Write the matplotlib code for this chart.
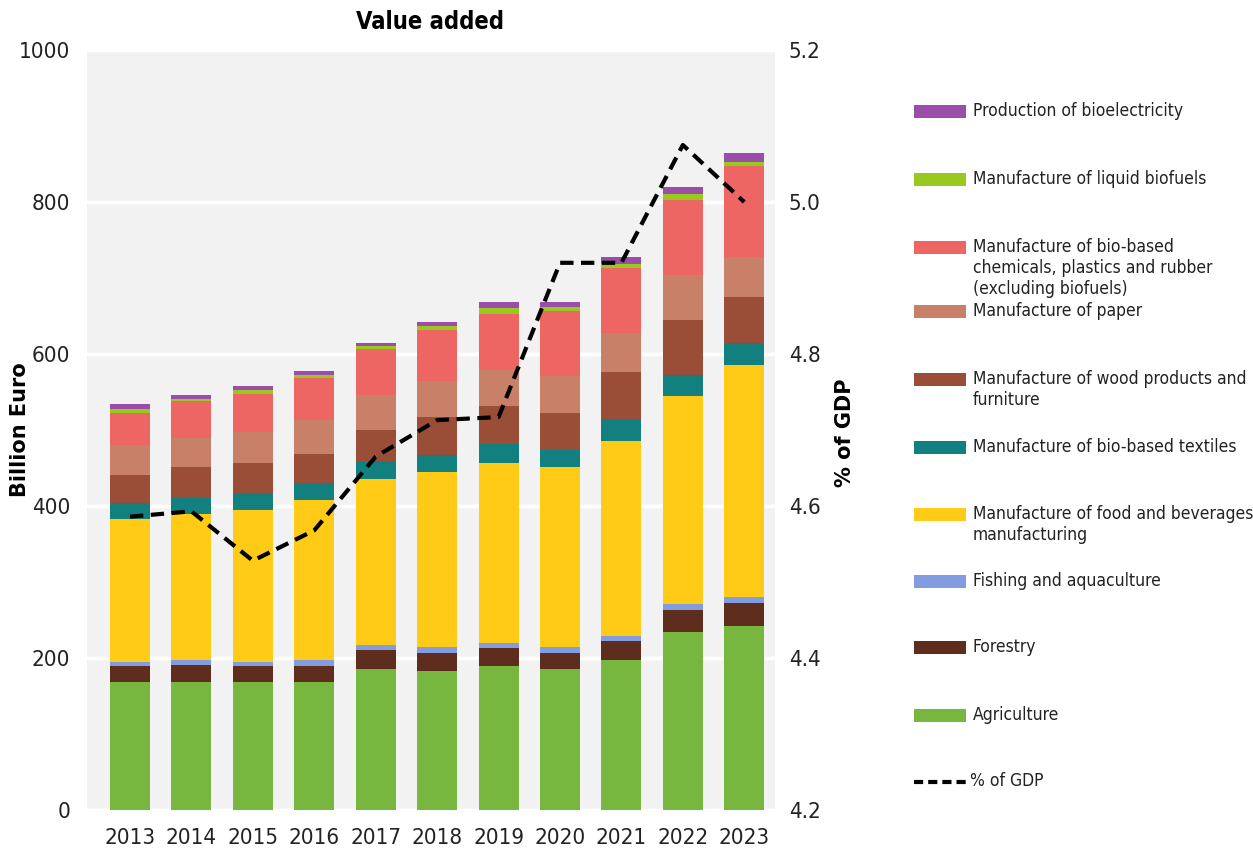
import matplotlib
matplotlib.use("Agg")
import os
import matplotlib.pyplot as plt
import matplotlib.font_manager as fm
import numpy as np
from matplotlib.patches import Rectangle
from matplotlib.lines import Line2D

years = ["2013", "2014", "2015", "2016", "2017", "2018", "2019", "2020", "2021", "2022", "2023"]

agriculture = [168, 168, 168, 168, 186, 183, 189, 186, 198, 234, 242]
forestry = [21, 23, 21, 21, 24, 24, 24, 21, 24, 29, 30]
fishing = [6, 7, 6, 9, 7, 7, 7, 7, 7, 8, 8]
food = [188, 191, 200, 210, 218, 231, 237, 237, 256, 274, 306]
textiles = [21, 22, 22, 22, 24, 22, 25, 23, 29, 27, 28]
wood = [37, 40, 40, 39, 41, 50, 49, 48, 62, 73, 61]
paper = [39, 39, 40, 44, 46, 47, 48, 49, 52, 59, 53]
chemicals = [42, 48, 50, 56, 60, 68, 74, 85, 85, 99, 119]
liquid_biofuels = [5, 3, 5, 4, 5, 5, 7, 6, 6, 8, 6]
bioelectricity = [7, 5, 6, 5, 4, 5, 8, 6, 8, 9, 12]

gdp_share = [4.586, 4.593, 4.528, 4.568, 4.665, 4.713, 4.717, 4.920, 4.920, 5.075, 5.000]

labels = {
    "agri": "Agriculture",
    "forest": "Forestry",
    "fish": "Fishing and aquaculture",
    "food": "Manufacture of food and beverages\nmanufacturing",
    "textile": "Manufacture of bio-based textiles",
    "wood": "Manufacture of wood products and\nfurniture",
    "paper": "Manufacture of paper",
    "chem": "Manufacture of bio-based\nchemicals, plastics and rubber\n(excluding biofuels)",
    "fuel": "Manufacture of liquid biofuels",
    "elec": "Production of bioelectricity",
}

series = [
    ("agri", agriculture, "#77B73F"),
    ("forest", forestry, "#5E2D1E"),
    ("fish", fishing, "#829CE0"),
    ("food", food, "#FFCB16"),
    ("textile", textiles, "#11807E"),
    ("wood", wood, "#9A4E38"),
    ("paper", paper, "#C98069"),
    ("chem", chemicals, "#EE6663"),
    ("fuel", liquid_biofuels, "#99C81E"),
    ("elec", bioelectricity, "#9B4DAA"),
]


def pick_font(candidates, fallback_family, weight="normal"):
    files = {os.path.basename(f.fname).lower(): f.fname for f in fm.fontManager.ttflist}
    for c in candidates:
        if c in files:
            return fm.FontProperties(fname=files[c])
    return fm.FontProperties(family=fallback_family, weight=weight)


REG = ["liberationsansnarrow-regular.ttf", "dejavusanscondensed.ttf", "robotocondensed-regular.ttf",
       "notosans-condensed.ttf", "opensans-condensed.ttf"]
BOLD = ["liberationsansnarrow-bold.ttf", "dejavusanscondensed-bold.ttf", "robotocondensed-bold.ttf",
        "notosans-condensedbold.ttf"]


def fp(size, bold=False):
    f = pick_font(BOLD if bold else REG, "Liberation Sans", "bold" if bold else "normal").copy()
    f.set_size(size)
    return f


fig = plt.figure(figsize=(12.53, 8.57), dpi=100)
ax = fig.add_axes([87 / 1253, 1 - 810 / 857, (775 - 87) / 1253, (810 - 50) / 857])
ax.set_facecolor("#F2F2F2")

x = np.arange(len(years))
bottom = np.zeros(len(years))
for key, vals, col in series:
    ax.bar(x, vals, bottom=bottom, width=0.65, color=col, zorder=3, linewidth=0)
    bottom += np.array(vals)

ax.set_xlim(-0.7, 10.5)
ax.set_ylim(0, 1000)
ax.set_yticks([0, 200, 400, 600, 800, 1000])
ax.yaxis.grid(True, color="white", linewidth=2.5, zorder=1)
ax.set_axisbelow(True)
for s in ax.spines.values():
    s.set_visible(False)
ax.tick_params(length=0)
ax.tick_params(axis="y", pad=12)
ax.tick_params(axis="x", pad=13)
ax.set_xticks(x)
ax.set_xticklabels(years)
for lbl in ax.get_xticklabels() + ax.get_yticklabels():
    lbl.set_fontproperties(fp(16))
    lbl.set_color("#222222")

ax2 = ax.twinx()
ax2.set_ylim(4.2, 5.2)
ax2.set_yticks([4.2, 4.4, 4.6, 4.8, 5.0, 5.2])
ax2.set_yticklabels(["4.2", "4.4", "4.6", "4.8", "5.0", "5.2"])
ax2.plot(x, gdp_share, color="black", linewidth=3, linestyle=(0, (3.2, 1.8)), zorder=5)
for s in ax2.spines.values():
    s.set_visible(False)
ax2.tick_params(length=0, pad=10)
for lbl in ax2.get_yticklabels():
    lbl.set_fontproperties(fp(16))
    lbl.set_color("#222222")

fig.text(430 / 1253, 1 - 22 / 857, "Value added", ha="center", va="center",
         fontproperties=fp(17, bold=True))
fig.text(20 / 1253, 1 - 430 / 857, "Billion Euro", rotation=90, ha="center", va="center",
         fontsize=15, fontweight="bold", family="DejaVu Sans")
fig.text(845 / 1253, 1 - 433 / 857, "% of GDP", rotation=90, ha="center", va="center",
         fontsize=15, fontweight="bold", family="DejaVu Sans")

# legend (manual, top to bottom)
legend_rows = [
    (9, 112), (8, 180), (7, 248), (6, 312), (5, 380), (4, 448), (3, 515), (2, 582), (1, 648), (0, 716)
]
for idx, ypix in legend_rows:
    key, vals, col = series[idx]
    fig.add_artist(Rectangle((914 / 1253, 1 - (ypix + 6) / 857), 52 / 1253, 13 / 857,
                             transform=fig.transFigure, color=col, linewidth=0))
    fig.text(973 / 1253, 1 - (ypix - 10) / 857, labels[key], ha="left", va="top",
             fontproperties=fp(12.5), color="#222222", linespacing=1.2)

fig.add_artist(Line2D([914 / 1253, 966 / 1253], [1 - 782 / 857, 1 - 782 / 857],
                      transform=fig.transFigure, color="black", linewidth=3,
                      linestyle=(0, (2.2, 1.2))))
fig.text(970 / 1253, 1 - 772 / 857, "% of GDP", ha="left", va="top",
         fontproperties=fp(12.5), color="#222222")

fig.savefig("out.png", dpi=100)
